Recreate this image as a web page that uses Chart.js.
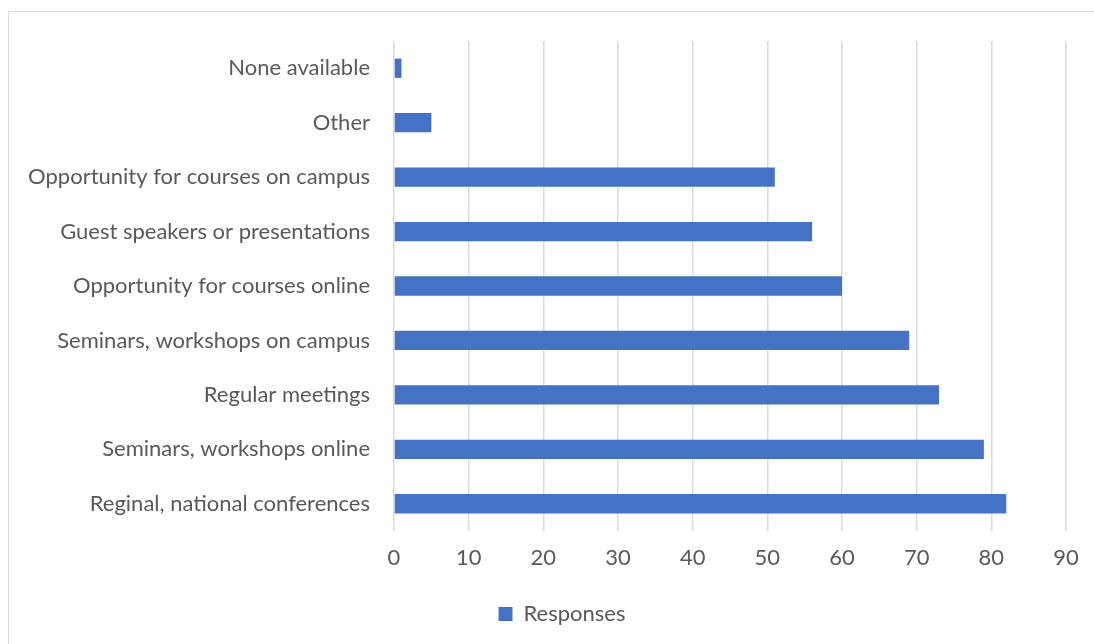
<!DOCTYPE html>
<html>
<head>
<meta charset="utf-8">
<script src="https://cdn.jsdelivr.net/npm/chart.js@4"></script>
<style>
    html, body { margin: 0; padding: 0; background: #fff; }
    body { width: 1094px; height: 644px; position: relative; overflow: hidden; }
    .frame {
        position: absolute;
        left: 8px;
        top: 11px;
        width: 1200px;
        height: 800px;
        border: 1px solid #d9d9d9;
    }
    #chartWrap { position: absolute; left: 0; top: 0; width: 1094px; height: 644px; }
</style>
</head>
<body>
<div class="frame"></div>
<div id="chartWrap"><canvas id="supportChart" width="1094" height="644"></canvas></div>
<script>
const categories = [
    'None available',
    'Other',
    'Opportunity for courses on campus',
    'Guest speakers or presentations',
    'Opportunity for courses online',
    'Seminars, workshops on campus',
    'Regular meetings',
    'Seminars, workshops online',
    'Reginal, national conferences'
];
const responses = [1, 5, 51, 56, 60, 69, 73, 79, 82];
const xTicks = [0, 10, 20, 30, 40, 50, 60, 70, 80, 90];

const textColor = '#595959';
const fontFamily = 'Lato, "Open Sans", sans-serif';
const fontSize = 22;

// nudge the legend so it sits centred under the whole frame
const legendShift = {
    id: 'legendShift',
    afterLayout(chart) {
        const lg = chart.legend;
        if (lg) {
            lg.left += 29;
            lg.right += 29;
        }
    }
};

document.addEventListener('DOMContentLoaded', function() {
    const ctx = document.getElementById('supportChart');
    new Chart(ctx, {
        type: 'bar',
        data: {
            labels: categories,
            datasets: [{
                label: 'Responses',
                data: responses,
                backgroundColor: '#4472c4',
                borderWidth: 0,
                categoryPercentage: 1,
                barPercentage: 0.355
            }]
        },
        plugins: [legendShift],
        options: {
            indexAxis: 'y',
            responsive: false,
            animation: false,
            layout: {
                padding: { left: 0, right: 28, top: 41, bottom: 9 }
            },
            plugins: {
                tooltip: { enabled: false },
                legend: {
                    position: 'bottom',
                    labels: {
                        color: textColor,
                        font: { family: fontFamily, size: fontSize },
                        boxWidth: 14,
                        boxHeight: 14,
                        padding: 10
                    }
                }
            },
            scales: {
                x: {
                    min: 0,
                    max: 90,
                    afterBuildTicks: function(scale) {
                        scale.ticks = xTicks.map(v => ({ value: v }));
                    },
                    afterFit: function(scale) {
                        scale.height = 62;
                    },
                    border: { display: false },
                    grid: {
                        color: '#d9d9d9',
                        lineWidth: 1.5,
                        drawTicks: false
                    },
                    ticks: {
                        color: textColor,
                        font: { family: fontFamily, size: fontSize },
                        padding: 14,
                        maxRotation: 0
                    }
                },
                y: {
                    afterFit: function(scale) {
                        scale.width = 394;
                    },
                    border: { display: false },
                    grid: { display: false, drawTicks: false },
                    ticks: {
                        color: textColor,
                        font: { family: fontFamily, size: fontSize },
                        padding: 24
                    }
                }
            }
        }
    });
});
</script>
</body>
</html>
